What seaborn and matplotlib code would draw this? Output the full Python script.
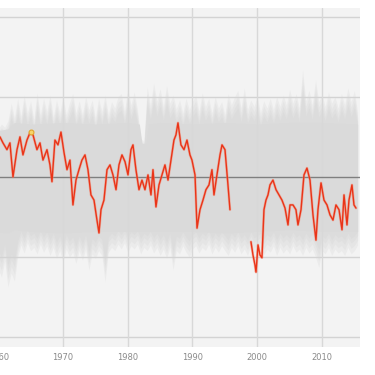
import numpy as np
import pandas as pd
import matplotlib
matplotlib.use("Agg")
import matplotlib.pyplot as plt
import seaborn as sns

# ---------------- data ----------------
red_years_a = [1960.27, 1960.73, 1961.35, 1961.81, 1962.28, 1962.90, 1963.36, 1963.82, 1964.44, 1964.90,
               1965.37, 1965.98, 1966.45, 1966.91, 1967.53, 1967.99, 1968.30, 1968.76, 1969.23, 1969.69,
               1970.15, 1970.62, 1971.08, 1971.54, 1972.01, 1972.47, 1972.93, 1973.40, 1973.86, 1974.32,
               1974.79, 1975.25, 1975.56, 1975.87, 1976.33, 1976.80, 1977.26, 1977.72, 1978.19, 1978.65,
               1979.11, 1979.58, 1980.04, 1980.50, 1980.81, 1981.27, 1981.74, 1982.20, 1982.66, 1983.13,
               1983.59, 1983.90, 1984.36, 1984.83, 1985.29, 1985.75, 1986.22, 1986.68, 1987.14, 1987.45,
               1987.76, 1988.22, 1988.69, 1989.15, 1989.61, 1989.92, 1990.39, 1990.70, 1991.16, 1991.62,
               1992.08, 1992.55, 1993.01, 1993.32, 1993.78, 1994.25, 1994.56, 1995.02, 1995.48, 1995.79]
red_vals_a = [0.50, 0.425, 0.34, 0.425, 0.0, 0.34, 0.50, 0.275, 0.46, 0.55,
              0.525, 0.34, 0.425, 0.21, 0.34, 0.15, -0.06, 0.46, 0.40, 0.56,
              0.31, 0.09, 0.21, -0.35, -0.04, 0.09, 0.21, 0.275, 0.09, -0.225,
              -0.29, -0.54, -0.70, -0.41, -0.29, 0.09, 0.15, 0.025, -0.16, 0.15,
              0.275, 0.19, 0.025, 0.34, 0.40, 0.09, -0.16, -0.04, -0.16, 0.025,
              -0.225, 0.09, -0.375, -0.10, 0.025, 0.15, -0.04, 0.21, 0.46, 0.525,
              0.675, 0.40, 0.34, 0.46, 0.275, 0.21, 0.025, -0.64, -0.41, -0.29,
              -0.16, -0.10, 0.09, -0.225, 0.025, 0.275, 0.40, 0.34, -0.10, -0.41]
red_years_b = [1999.03, 1999.34, 1999.65, 1999.81, 2000.12, 2000.42, 2000.73, 2001.04, 2001.35, 2001.66,
               2001.97, 2002.43, 2002.90, 2003.36, 2003.82, 2004.29, 2004.75, 2005.06, 2005.52, 2005.98,
               2006.29, 2006.76, 2007.22, 2007.68, 2008.15, 2008.61, 2009.07, 2009.38, 2009.85, 2010.31,
               2010.77, 2011.24, 2011.70, 2012.16, 2012.63, 2013.09, 2013.40, 2013.86, 2014.17, 2014.63,
               2014.94, 2015.25]
red_vals_b = [-0.81, -0.975, -1.10, -1.19, -0.85, -0.975, -1.01, -0.41, -0.29, -0.225,
              -0.10, -0.04, -0.16, -0.225, -0.29, -0.39, -0.60, -0.35, -0.35, -0.41,
              -0.60, -0.41, 0.025, 0.11, -0.04, -0.475, -0.79, -0.41, -0.075, -0.29,
              -0.35, -0.475, -0.54, -0.35, -0.41, -0.66, -0.225, -0.60, -0.29, -0.10,
              -0.35, -0.39]

marker_year = [1965.06]
marker_val = [0.56]

band_years = [1958.5 + 0.5 * i for i in range(115)]
band_hi = [0.62, 0.58, 0.64, 0.60, 0.66, 0.62, 0.70, 0.92, 0.74,
           0.98, 0.76, 1.02, 0.80, 0.95, 0.72, 1.05, 0.78, 0.98, 0.82,
           1.02, 0.75, 0.96, 0.80, 1.00, 0.78, 0.92, 1.04, 0.80, 0.95,
           0.78, 1.00, 0.84, 0.96, 0.74, 0.98, 0.82, 1.02, 0.78, 0.94,
           0.86, 1.00, 1.04, 0.82, 1.10, 0.90, 1.06, 0.84, 0.48, 0.44,
           1.12, 0.90, 1.17, 0.95, 1.10, 0.88, 1.14, 0.92, 1.02, 0.85,
           0.96, 0.80, 0.98, 0.84, 0.94, 1.02, 0.82, 1.05, 0.88, 0.98,
           0.80, 1.00, 0.86, 0.94, 0.78, 1.04, 0.90, 1.00, 1.08, 0.86,
           1.11, 0.84, 0.96, 0.88, 1.00, 0.80, 0.95, 0.86, 0.98, 0.84,
           1.00, 0.88, 1.02, 0.90, 1.09, 0.92, 1.04, 0.86, 1.34, 0.95,
           1.08, 0.90, 1.21, 0.94, 1.02, 0.88, 1.06, 0.92, 1.00, 0.86,
           1.04, 0.90, 1.11, 0.94, 1.08, 0.80]
band_lo = [-1.20, -1.10, -1.30, -1.15, -1.25, -1.05, -1.375, -1.20, -1.30,
           -1.00, -0.85, -0.95, -0.82, -0.92, -0.88, -0.96, -0.84, -0.94, -0.86,
           -0.98, -0.88, -1.02, -0.92, -1.06, -0.90, -1.00, -0.94, -1.08, -0.92,
           -1.04, -0.90, -1.16, -0.96, -1.02, -0.92, -0.98, -1.31, -0.94, -0.88,
           -0.92, -0.84, -0.90, -0.82, -0.94, -0.86, -0.90, -0.84, -0.96, -0.88,
           -0.92, -0.85, -0.95, -0.88, -0.98, -0.90, -1.02, -0.88, -1.16, -0.92,
           -0.96, -0.86, -0.94, -1.00, -0.90, -0.86, -0.95, -0.88, -0.92, -0.84,
           -0.96, -0.88, -0.94, -0.86, -0.92, -0.98, -0.88, -0.94, -0.86, -0.96,
           -0.90, -0.98, -0.86, -0.95, -0.92, -0.88, -0.97, -0.90, -0.94, -0.86,
           -0.98, -0.88, -0.95, -0.90, -0.96, -0.86, -0.94, -0.90, -0.98, -0.88,
           -0.95, -0.90, -1.00, -1.13, -0.92, -0.96, -0.88, -0.98, -0.90, -0.95,
           -0.92, -0.98, -0.88, -0.96, -0.92, -0.85]

core_years = [1958.5, 1961.5, 1962.5, 1965, 1970, 1975, 1980, 1981.8, 1982.2, 1982.8,
              1983.2, 1985, 1990, 1995, 2000, 2005, 2010, 2015.5]
core_hi = [0.56, 0.60, 0.68, 0.66, 0.68, 0.66, 0.68, 0.66, 0.42, 0.42,
           0.66, 0.68, 0.66, 0.68, 0.66, 0.68, 0.68, 0.66]
core_lo = [-0.68, -0.70, -0.66, -0.68, -0.70, -0.68, -0.68, -0.68, -0.68, -0.68,
           -0.68, -0.68, -0.68, -0.70, -0.68, -0.66, -0.68, -0.68]

x_ticks = [1960, 1970, 1980, 1990, 2000, 2010]
x_tick_labels = ["1960", "1970", "1980", "1990", "2000", "2010"]
y_grid = [-2, -1, 1, 2]
y_zero = 0

# ---------------- plot ----------------
sns.set_style("white")
plt.rcParams['font.family'] = ['DejaVu Sans']

fig = plt.figure(figsize=(3.75, 3.75), dpi=100)
fig.patch.set_facecolor("white")
ax = fig.add_axes([-10 / 375, 28 / 375, 370 / 375, 339 / 375])
ax.set_facecolor("#f3f3f3")

# layered spiky envelope gives a soft gradient towards the core
bh = np.array(band_hi)
bl = np.array(band_lo)
for k, col in [(1.0, "#ebebeb"), (0.93, "#e5e5e5"), (0.86, "#e0e0e0"), (0.8, "#dcdcdc")]:
    ax.fill_between(band_years, bl * k, bh * k, color=col, lw=0, zorder=1)
ax.fill_between(core_years, core_lo, core_hi, color="#dadada", lw=0, zorder=1.5)

for g in y_grid:
    ax.axhline(g, color="#d3d3d3", lw=1.0, zorder=2)
for t in x_ticks:
    ax.axvline(t, color="#d8d8d8", lw=1.0, zorder=2)
ax.axhline(y_zero, color="#7f7f7f", lw=1.0, zorder=2.5)

df = pd.DataFrame({
    "year": red_years_a + red_years_b,
    "val": red_vals_a + red_vals_b,
    "seg": ["a"] * len(red_years_a) + ["b"] * len(red_years_b),
})
sns.lineplot(data=df, x="year", y="val", units="seg", estimator=None,
             color="#f5836a", lw=1.9, alpha=0.5, ax=ax, zorder=3, legend=False)
sns.lineplot(data=df, x="year", y="val", units="seg", estimator=None,
             color="#ea3418", lw=1.0, ax=ax, zorder=3.2, legend=False)
ax.plot(marker_year, marker_val, "o", ms=3.5, mfc="#f7d56a", mec="#e2a52a",
        mew=0.8, zorder=4)

ax.set_xlim(1958.73, 2015.87)
ax.set_ylim(-2.125, 2.11)
ax.set_xticks(x_ticks)
ax.set_xticklabels(x_tick_labels, fontsize=6, color="#8a8a8a")
ax.set_yticks([])
ax.tick_params(axis="x", length=0, pad=4)
ax.set_xlabel("")
ax.set_ylabel("")
for s in ax.spines.values():
    s.set_visible(False)

fig.savefig("out.png", dpi=100, facecolor="white")
